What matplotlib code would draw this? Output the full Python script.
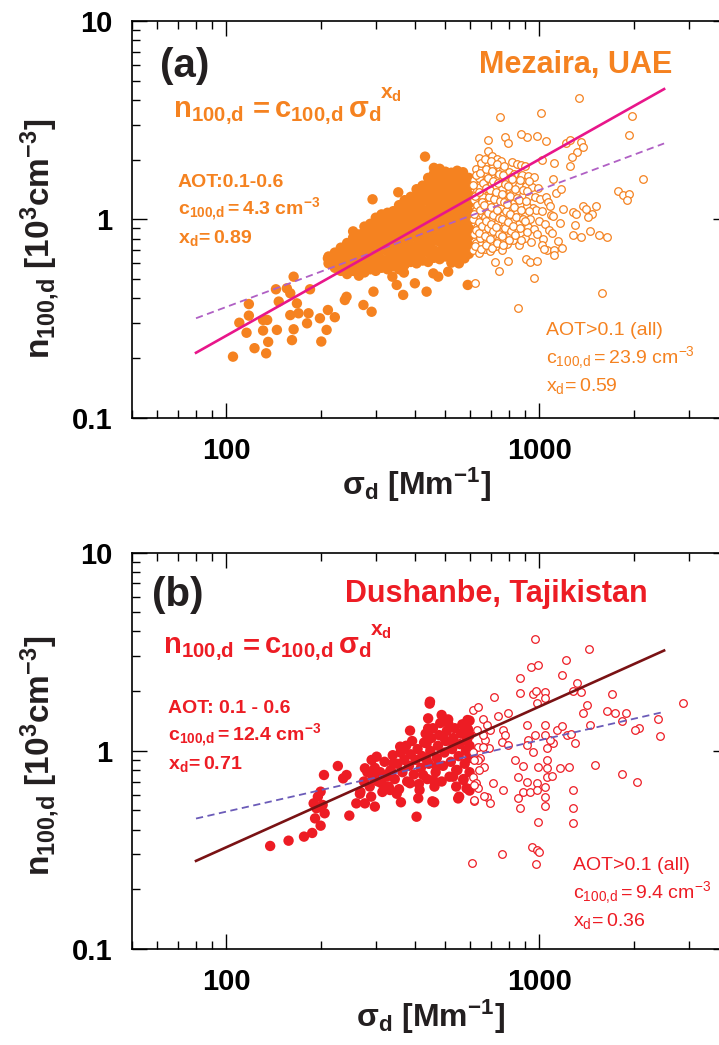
import numpy as np
import matplotlib
matplotlib.use("Agg")
import matplotlib.pyplot as plt
from matplotlib.ticker import FixedLocator, FixedFormatter, NullFormatter

OUTPUT_PATH = "out.png"
W, H = 719, 1045

# ---------------- panel (a): Mezaira, UAE ----------------
# sparse filled points (AOT 0.1-0.6)
a_fill_sigma = [105, 110, 116, 118, 118, 123, 131, 131, 135, 136, 134, 145, 144, 147,
                156, 160, 164, 160, 164, 162, 168, 170, 181, 183, 185, 199, 201, 209,
                211, 222, 211, 225, 239, 242, 274, 291, 295, 293, 339, 354, 350, 367,
                369, 400, 431, 436, 458, 475, 511, 523, 553, 576, 590]
a_fill_n = [0.203, 0.301, 0.268, 0.374, 0.327, 0.224, 0.311, 0.275, 0.311, 0.241, 0.211,
            0.277, 0.444, 0.385, 0.449, 0.424, 0.514, 0.329, 0.279, 0.246, 0.377, 0.336,
            0.299, 0.336, 0.444, 0.317, 0.242, 0.277, 0.349, 0.321, 0.636, 0.674, 0.392,
            0.407, 0.370, 0.342, 0.432, 1.263, 0.514, 1.370, 0.467, 0.416, 0.539, 0.476,
            2.073, 0.432, 0.534, 0.514, 0.545, 0.605, 0.600, 0.636, 0.467]
# dense filled core, read column by column
a_core_sigma = [212, 222, 232, 243, 254, 265, 276, 288, 300, 313, 327, 341, 356, 371,
                388, 405, 423, 441, 460, 480, 501, 523, 546, 570, 595]
a_core_n = [
    [0.60, 0.65],
    [0.57, 0.62, 0.68],
    [0.55, 0.60, 0.66, 0.72],
    [0.53, 0.58, 0.64, 0.70, 0.76],
    [0.55, 0.61, 0.67, 0.74, 0.81, 0.87],
    [0.52, 0.58, 0.64, 0.70, 0.77, 0.84],
    [0.54, 0.60, 0.66, 0.72, 0.79, 0.86, 0.92],
    [0.56, 0.62, 0.68, 0.75, 0.82, 0.89, 0.95],
    [0.55, 0.61, 0.67, 0.73, 0.80, 0.88, 0.96, 1.02],
    [0.57, 0.63, 0.70, 0.77, 0.84, 0.92, 1.00, 1.06],
    [0.56, 0.62, 0.69, 0.76, 0.83, 0.91, 0.99, 1.08],
    [0.58, 0.64, 0.71, 0.78, 0.86, 0.94, 1.03, 1.10],
    [0.56, 0.62, 0.69, 0.76, 0.84, 0.92, 1.01, 1.10, 1.18],
    [0.59, 0.65, 0.72, 0.80, 0.88, 0.97, 1.06, 1.16, 1.25],
    [0.61, 0.67, 0.74, 0.82, 0.90, 0.99, 1.09, 1.20, 1.30],
    [0.60, 0.66, 0.73, 0.81, 0.89, 0.98, 1.08, 1.19, 1.31, 1.42],
    [0.62, 0.69, 0.76, 0.84, 0.93, 1.02, 1.12, 1.24, 1.36, 1.48],
    [0.61, 0.68, 0.75, 0.83, 0.92, 1.01, 1.11, 1.23, 1.35, 1.49, 1.62],
    [0.64, 0.70, 0.78, 0.86, 0.95, 1.05, 1.16, 1.28, 1.41, 1.55, 1.70, 1.82],
    [0.63, 0.69, 0.77, 0.85, 0.94, 1.03, 1.14, 1.26, 1.39, 1.53, 1.68, 1.80],
    [0.65, 0.72, 0.80, 0.88, 0.97, 1.07, 1.18, 1.30, 1.43, 1.58, 1.74],
    [0.64, 0.71, 0.78, 0.86, 0.95, 1.05, 1.16, 1.28, 1.41, 1.56, 1.72],
    [0.66, 0.73, 0.81, 0.89, 0.98, 1.08, 1.19, 1.32, 1.46, 1.61, 1.76],
    [0.65, 0.72, 0.79, 0.87, 0.96, 1.06, 1.17, 1.29, 1.42, 1.57, 1.73],
    [0.67, 0.74, 0.82, 0.90, 0.99, 1.09, 1.20, 1.33, 1.47, 1.62],
]
# open circles: dense cloud just above sigma = 600
a_cloud_sigma = [612, 625, 617, 630, 614, 627, 619, 633, 616, 626,
                 640, 652, 646, 658, 641, 655, 644, 660, 648, 639, 654, 643,
                 668, 680, 664, 684, 671, 662, 678, 690, 666, 681, 672, 686,
                 697, 708, 693, 712, 702, 715, 695, 706, 719, 700, 711, 703,
                 726, 740, 722, 735, 748, 728, 741, 724, 737, 750, 731,
                 758, 770, 755, 777, 763, 753, 772, 760, 781, 766, 756,
                 790, 805, 786, 800, 812, 793, 808, 788, 798, 815,
                 826, 840, 822, 845, 831, 818, 838, 827, 850,
                 860, 875, 858, 880, 866, 889, 862, 878, 870,
                 900, 918, 896, 912, 928, 903, 920, 898,
                 940, 958, 936, 952, 968, 944, 960,
                 980, 998, 975, 1005, 988,
                 1025, 1044, 1018, 1050,
                 1070, 1090, 1062,
                 621, 629, 618, 631, 622, 613, 628,
                 650, 643, 657, 647, 653, 641, 659, 645, 651,
                 676, 669, 687, 674, 683, 667, 689, 673, 685, 677, 669,
                 704, 696, 713, 699, 709, 701, 717, 694, 710, 704, 698,
                 733, 745, 729, 742, 731, 746, 727, 739, 744, 734,
                 765, 758, 774, 761, 779, 768, 757, 776, 762, 771,
                 797, 810, 792, 803, 789, 806, 795, 811,
                 834, 823, 842, 828, 848, 833, 820,
                 870, 864, 884, 871, 859, 883, 868,
                 910, 901, 923, 907, 915, 925]
a_cloud_n = [0.70, 0.76, 0.84, 0.92, 1.01, 1.12, 1.25, 1.40, 1.58, 1.80,
             0.68, 0.74, 0.81, 0.89, 0.97, 1.06, 1.17, 1.30, 1.45, 1.62, 1.82, 2.05,
             0.71, 0.78, 0.86, 0.94, 1.03, 1.13, 1.24, 1.37, 1.52, 1.70, 1.90, 2.22,
             0.69, 0.76, 0.83, 0.91, 1.00, 1.10, 1.21, 1.34, 1.49, 1.66, 1.86, 2.10,
             0.73, 0.80, 0.88, 0.97, 1.07, 1.18, 1.30, 1.45, 1.61, 1.80, 2.02,
             0.70, 0.78, 0.86, 0.95, 1.05, 1.16, 1.28, 1.42, 1.58, 1.77, 1.98,
             0.75, 0.83, 0.92, 1.02, 1.13, 1.25, 1.39, 1.55, 1.73, 1.94,
             0.79, 0.88, 0.98, 1.09, 1.21, 1.35, 1.51, 1.69, 1.90,
             0.74, 0.84, 0.95, 1.06, 1.19, 1.33, 1.49, 1.67, 1.88,
             0.81, 0.92, 1.04, 1.17, 1.31, 1.47, 1.65, 1.86,
             0.77, 0.89, 1.01, 1.14, 1.29, 1.45, 1.63,
             0.84, 0.98, 1.12, 1.27, 1.44,
             0.80, 0.95, 1.10, 1.30,
             0.88, 1.05, 1.22,
             0.73, 0.88, 1.06, 1.18, 1.32, 1.49, 1.68,
             0.71, 0.85, 0.93, 1.11, 1.23, 1.37, 1.53, 1.72, 1.93,
             0.74, 0.82, 0.90, 0.98, 1.08, 1.18, 1.30, 1.44, 1.61, 1.80, 2.02,
             0.72, 0.80, 0.87, 0.95, 1.05, 1.15, 1.27, 1.41, 1.57, 1.76, 1.97,
             0.76, 0.84, 0.92, 1.02, 1.12, 1.24, 1.37, 1.52, 1.70, 1.90,
             0.74, 0.82, 0.90, 1.00, 1.10, 1.22, 1.35, 1.50, 1.67, 1.87,
             0.79, 0.87, 0.97, 1.07, 1.19, 1.32, 1.47, 1.64,
             0.83, 0.93, 1.03, 1.15, 1.28, 1.43, 1.60,
             0.79, 0.90, 1.00, 1.12, 1.26, 1.41, 1.58,
             0.86, 0.98, 1.10, 1.24, 1.39, 1.56]
# open circles: scattered ones
a_open_sigma = [1340, 750, 1010, 1970, 1925, 2135, 1785, 1842, 1934, 1897, 1580, 855, 622,
                960, 720, 743, 791, 905, 932, 983, 1281, 1362, 1455, 1551, 1637, 1297,
                1379, 1406, 1513, 1473, 1430, 1281, 1307, 1190, 1079, 1101, 1161, 1112,
                1103, 1130, 1173, 1214, 1250, 1362, 1379, 1313, 1274, 1256, 1046, 983,
                909, 876, 775, 794, 683, 1015, 1020, 1060, 1150, 1100, 1180, 1030, 1110,
                1110]
a_open_n = [4.08, 3.30, 3.43, 3.33, 2.67, 1.60, 1.39, 1.33, 1.34, 1.25, 0.424, 0.356, 0.479,
            0.504, 0.612, 0.549, 0.619, 0.631, 0.612, 0.617, 0.834, 0.819, 0.877, 0.834,
            0.819, 0.937, 1.168, 1.125, 1.173, 1.061, 1.032, 1.094, 1.061, 1.13, 1.168,
            1.040, 0.955, 1.92, 1.60, 1.36, 1.43, 2.42, 2.52, 2.47, 2.31, 2.20, 2.07,
            1.86, 2.49, 2.64, 2.60, 2.70, 2.60, 2.42, 2.53, 1.99, 0.74, 0.70, 0.78, 0.85,
            0.72, 0.71, 0.70, 0.66]

# ---------------- panel (b): Dushanbe, Tajikistan ----------------
b_fill_sigma = [138, 158, 177, 188, 200, 192, 194, 190, 196, 200, 203, 206, 205, 227, 236,
                242, 247, 260, 277, 277, 291, 302, 298, 290, 267, 313, 316, 333, 341, 333,
                350, 361, 359, 367, 386, 386, 405, 410, 414, 425, 436, 436, 441, 441, 447,
                446, 461, 458, 469, 487, 493, 511, 530, 530, 542, 554, 571, 585, 589, 585,
                455, 550, 598]
b_fill_n = [0.331, 0.352, 0.369, 0.385, 0.419, 0.456, 0.513, 0.543, 0.587, 0.622, 0.533,
            0.484, 0.755, 0.838, 0.726, 0.755, 0.471, 0.543, 0.543, 0.816, 0.899, 0.934,
            0.523, 0.587, 0.607, 0.686, 0.740, 0.785, 0.865, 0.634, 0.607, 0.550, 1.049,
            1.009, 1.264, 0.686, 0.465, 0.576, 0.634, 0.755, 0.899, 1.09, 1.298, 1.458,
            1.77, 1.73, 0.55, 0.712, 0.832, 1.516, 1.178, 1.376, 1.09, 0.740, 0.80, 0.587,
            0.712, 0.647, 1.43, 1.32, 0.556, 0.575, 0.63]
b_core_sigma = [268, 275, 282, 287, 293, 298, 305, 310, 315, 320, 325, 330, 335, 340, 345,
                352, 356, 360, 365, 370, 375, 378, 383, 388, 392, 397, 402, 408, 412, 418,
                422, 428, 433, 438, 443, 448, 452, 457, 462, 466, 470, 474, 478, 482, 487,
                492, 497, 502, 506, 511, 516, 521, 526, 531, 536, 542, 547, 552, 557, 562,
                567, 572, 577, 582, 587, 592, 596, 598, 598, 598, 598, 598]
b_core_n = [0.62, 0.70, 0.78, 0.66, 0.74, 0.82, 0.70, 0.78, 0.62, 0.88, 0.74, 0.66, 0.80,
            0.95, 0.72, 0.86, 0.64, 0.98, 0.78, 0.90, 1.06, 0.70, 0.84, 0.96, 1.12, 0.76,
            0.90, 1.02, 0.68, 0.82, 0.94, 1.10, 1.22, 0.72, 0.86, 1.00, 1.16, 1.30, 0.66,
            0.78, 0.92, 1.06, 1.20, 1.38, 0.70, 0.84, 0.98, 1.12, 1.26, 1.44, 0.74, 0.88,
            1.02, 1.16, 1.30, 0.66, 0.80, 0.94, 1.08, 1.22, 1.36, 0.72, 0.86, 1.00, 1.14,
            1.28, 0.64, 0.78, 0.92, 1.06, 1.20, 1.42]
b_open_sigma = [967, 1438, 1211, 939, 986, 1182, 866, 1313, 1356, 1275, 866, 955, 974, 1043,
                1043, 983, 717, 1414, 1708, 1638, 1741, 1883, 1837, 1379, 2877, 2394, 2424,
                2076, 2015, 1449, 614, 637, 661, 738, 794, 762, 694, 678, 909, 1043, 1134,
                1176, 1220, 1298, 1260, 1106, 1080, 1053, 1043, 967, 920, 909, 951, 775, 757,
                796, 669, 688, 661, 637, 614, 645, 666, 637, 835, 888, 992, 1060, 1060, 1162,
                1245, 1504, 1837, 2041, 614, 626, 712, 637, 766, 857, 909, 888, 932, 979,
                979, 1053, 1093, 1043, 1043, 1282, 855, 866, 617, 678, 694, 1043, 1282, 988,
                1278, 949, 979, 998, 761, 610, 974, 630, 661, 620, 640, 620, 665, 620]
b_open_n = [3.65, 3.26, 2.86, 2.64, 2.71, 2.41, 2.32, 2.19, 1.99, 2.01, 1.96, 1.93, 2.01, 1.99,
            1.84, 1.75, 1.86, 1.70, 1.93, 1.58, 1.545, 1.545, 1.41, 1.545, 1.75, 1.44, 1.19,
            1.31, 1.27, 1.35, 1.61, 1.66, 1.44, 1.49, 1.545, 1.27, 1.27, 1.35, 1.35, 1.35,
            1.27, 1.33, 1.20, 1.10, 1.21, 1.09, 1.134, 1.03, 1.20, 1.20, 1.134, 1.07, 0.99,
            1.20, 1.11, 1.07, 1.134, 1.03, 1.20, 1.05, 0.99, 0.915, 0.83, 0.899, 0.899,
            0.841, 0.832, 0.899, 0.816, 0.816, 0.825, 0.848, 0.761, 0.699, 0.74, 0.685,
            0.69, 0.646, 0.634, 0.74, 0.699, 0.622, 0.622, 0.69, 0.634, 0.74, 0.746, 0.66,
            0.587, 0.634, 0.58, 0.513, 0.557, 0.587, 0.546, 0.527, 0.513, 0.439, 0.434,
            0.328, 0.316, 0.31, 0.30, 0.273, 0.27, 1.27, 1.05, 0.90, 0.80, 0.67, 0.59, 0.565]

# power-law fit lines n = c * sigma^x (c in cm^-3, n plotted in 10^3 cm^-3)
fit_sigma = [80, 2500]
a_fit_sel = (4.3, 0.89)
a_fit_all = (23.9, 0.59)
b_fit_sel = (12.4, 0.71)
b_fit_all = (94.0, 0.36)  # drawn dashed line sits at c ~ 94 (label says 9.4)

x_ticks = [100, 1000]
x_tick_labels = ["100", "1000"]
x_minor = [50, 60, 70, 80, 90, 200, 300, 400, 500, 600, 700, 800, 900, 2000, 3000, 4000]
y_ticks = [0.1, 1, 10]
y_tick_labels = ["0.1", "1", "10"]
y_minor = [0.2, 0.3, 0.4, 0.5, 0.6, 0.7, 0.8, 0.9, 2, 3, 4, 5, 6, 7, 8, 9]

ORANGE = "#F58220"
PINK = "#E8168A"
PURPLE = "#B060C4"
RED = "#ED1C24"
DARKRED = "#7A1214"
SLATE = "#6B5BB8"
INK = "#231F20"

plt.rcParams["font.family"] = ["Liberation Sans", "DejaVu Sans"]
plt.rcParams["mathtext.fontset"] = "custom"
plt.rcParams["mathtext.rm"] = "Liberation Sans"
plt.rcParams["mathtext.bf"] = "Liberation Sans:bold"
plt.rcParams["mathtext.it"] = "Liberation Sans:italic"
plt.rcParams["mathtext.sf"] = "Liberation Sans"


def expand(col_sigma, col_n):
    s, n = [], []
    for x, ys in zip(col_sigma, col_n):
        s += [x] * len(ys)
        n += ys
    return s, n


def fx(x):
    return x / W


def fy(y):
    return 1 - y / H


def setup_axes(ax):
    ax.set_xscale("log")
    ax.set_yscale("log")
    ax.set_xlim(50, 4000)
    ax.set_ylim(0.1, 10)
    ax.xaxis.set_major_locator(FixedLocator(x_ticks))
    ax.xaxis.set_major_formatter(FixedFormatter(x_tick_labels))
    ax.xaxis.set_minor_locator(FixedLocator(x_minor))
    ax.xaxis.set_minor_formatter(NullFormatter())
    ax.yaxis.set_major_locator(FixedLocator(y_ticks))
    ax.yaxis.set_major_formatter(FixedFormatter(y_tick_labels))
    ax.yaxis.set_minor_locator(FixedLocator(y_minor))
    ax.yaxis.set_minor_formatter(NullFormatter())
    ax.tick_params(which="both", direction="in", top=True, right=True, width=1.0)
    ax.tick_params(which="major", length=11, pad=14, labelsize=21)
    ax.tick_params(which="minor", length=6)
    for lbl in ax.get_xticklabels() + ax.get_yticklabels():
        lbl.set_fontweight("bold")
    for sp in ax.spines.values():
        sp.set_linewidth(1.2)


def draw_panel(ax, fill, core, opened, color, sel, allfit, line_sel, line_all):
    ax.scatter(core[0], core[1], s=56, color=color, edgecolors="none", zorder=2)
    ax.scatter(fill[0], fill[1], s=56, color=color, edgecolors="none", zorder=2)
    ax.scatter(opened[0], opened[1], s=30, facecolors="white", edgecolors=color,
               linewidths=0.9, zorder=3)
    xs = np.array(fit_sigma, dtype=float)
    ax.plot(xs, allfit[0] * xs ** allfit[1] / 1000, color=line_all, lw=1.3,
            dashes=(4, 2.5), zorder=4)
    ax.plot(xs, sel[0] * xs ** sel[1] / 1000, color=line_sel, lw=1.9, zorder=5)


fig = plt.figure(figsize=(W / 100, H / 100), dpi=100)
ax_a = fig.add_axes([fx(132.1), fy(417.6), (728 - 132.1) / W, (417.6 - 21.2) / H])
ax_b = fig.add_axes([fx(132.1), fy(949.0), (728 - 132.1) / W, (949.0 - 552.6) / H])

a_core = expand(a_core_sigma, a_core_n)
draw_panel(ax_a, (a_fill_sigma, a_fill_n), a_core,
           (a_cloud_sigma + a_open_sigma, a_cloud_n + a_open_n),
           ORANGE, a_fit_sel, a_fit_all, PINK, PURPLE)
draw_panel(ax_b, (b_fill_sigma, b_fill_n), (b_core_sigma, b_core_n),
           (b_open_sigma, b_open_n), RED, b_fit_sel, b_fit_all, DARKRED, SLATE)
setup_axes(ax_a)
setup_axes(ax_b)

# formula n_100,d = c_100,d sigma_d^x_d set piece by piece (x offset in px, text)
formula_parts = [(0, r"$\mathbf{n_{100{,}d}}$"), (75, r"$\mathbf{=}$"),
                 (101, r"$\mathbf{c_{100{,}d}}$"), (175, r"$\mathbf{\sigma_d}$")]
formula_exp = r"$\mathbf{x_d}$"
ylab = r"$\mathbf{n_{100{,}d}\ [10^3cm^{-3}]}$"
xlab = r"$\mathbf{\sigma_d\ [Mm^{-1}]}$"


def panel_texts(color, tag, tag_xy, site, site_xy, f_xy, exp_dx, left_lines, left_xy,
                right_lines, right_xy, ylab_xy, xlab_xy):
    fig.text(fx(tag_xy[0]), fy(tag_xy[1]), tag, fontsize=29, fontweight="bold", color=INK)
    fig.text(fx(site_xy[0]), fy(site_xy[1]), site, fontsize=22, fontweight="bold",
             color=color, ha="right")
    for dx, part in formula_parts:
        fig.text(fx(f_xy[0] + dx), fy(f_xy[1]), part, fontsize=21, color=color)
    fig.text(fx(f_xy[0] + exp_dx), fy(f_xy[1] - 18), formula_exp, fontsize=15, color=color)
    for i, line in enumerate(left_lines):
        fig.text(fx(left_xy[0]), fy(left_xy[1] + i * 28), line, fontsize=14,
                 fontweight="bold", color=color)
    for i, line in enumerate(right_lines):
        fig.text(fx(right_xy[0]), fy(right_xy[1] + i * 28), line, fontsize=14,
                 color=color)
    fig.text(fx(ylab_xy[0]), fy(ylab_xy[1]), ylab, fontsize=24, rotation=90,
             ha="center", va="center", color=INK)
    fig.text(fx(xlab_xy[0]), fy(xlab_xy[1]), xlab, fontsize=23, ha="center",
             va="baseline", color=INK)


panel_texts(ORANGE, "(a)", (160, 77), "Mezaira, UAE", (672, 73), (173, 116.7), 207,
            ["AOT:0.1-0.6", r"$\mathbf{c_{100{,}d} = 4.3\ cm^{-3}}$",
             r"$\mathbf{x_d\!= 0.89}$"],
            (177.5, 186.7),
            ["AOT>0.1 (all)", r"$\mathrm{c_{100{,}d} = 23.9\ cm^{-3}}$",
             r"$\mathrm{x_d\!= 0.59}$"],
            (545.7, 335), (40, 238.5), (416, 495))
panel_texts(RED, "(b)", (151.7, 606), "Dushanbe, Tajikistan", (647.7, 601.7), (163.3, 653.3),
            207,
            ["AOT: 0.1 - 0.6", r"$\mathbf{c_{100{,}d} = 12.4\ cm^{-3}}$",
             r"$\mathbf{x_d\!= 0.71}$"],
            (168, 712.7),
            ["AOT>0.1 (all)", r"$\mathrm{c_{100{,}d} = 9.4\ cm^{-3}}$",
             r"$\mathrm{x_d\!= 0.36}$"],
            (573, 870), (40, 756), (430, 1027))

fig.savefig(OUTPUT_PATH, dpi=100)
plt.close(fig)
print(f"Saved: {OUTPUT_PATH}")
